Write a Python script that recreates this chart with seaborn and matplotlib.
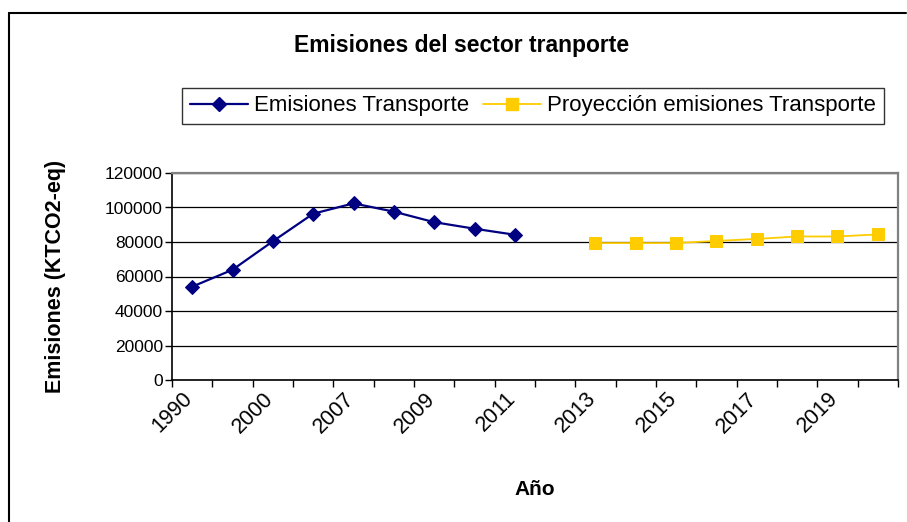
import matplotlib
matplotlib.use('Agg')
import matplotlib.pyplot as plt
import matplotlib.transforms as mtransforms
import seaborn as sns
import pandas as pd
import numpy as np
from matplotlib.lines import Line2D

anios = ['1990', '1994', '2000', '2005', '2007', '2008', '2009', '2010', '2011', '2012',
         '2013', '2014', '2015', '2016', '2017', '2018', '2019', '2020']
anios_hist = ['1990', '1994', '2000', '2005', '2007', '2008', '2009', '2010', '2011']
emisiones_hist = [54100, 63900, 80400, 96400, 102400, 97600, 91500, 87700, 84200]
anios_proy = ['2013', '2014', '2015', '2016', '2017', '2018', '2019', '2020']
emisiones_proy = [79400, 79400, 79400, 80600, 81800, 83200, 83200, 84400]

pos = {a: i for i, a in enumerate(anios)}
df_hist = pd.DataFrame({'x': [pos[a] for a in anios_hist], 'y': emisiones_hist})
df_proy = pd.DataFrame({'x': [pos[a] for a in anios_proy], 'y': emisiones_proy})

sns.set_style('white')
plt.rcParams['font.family'] = ['Liberation Sans', 'DejaVu Sans']
plt.rcParams['text.color'] = 'black'
plt.rcParams['axes.labelcolor'] = 'black'
plt.rcParams['xtick.color'] = 'black'
plt.rcParams['ytick.color'] = 'black'

fig = plt.figure(figsize=(9.07, 5.22), dpi=100)
ax = fig.add_axes([172/907, 1 - 380/522, (898 - 172)/907, (380 - 173)/522])

azul = '#000080'
amarillo = '#FFCC00'
sns.lineplot(data=df_hist, x='x', y='y', ax=ax, color=azul, lw=1.6, marker='D',
             markersize=7, markeredgecolor=azul, zorder=4)
sns.lineplot(data=df_proy, x='x', y='y', ax=ax, color=amarillo, lw=1.3, marker='s',
             markersize=8, markeredgecolor=amarillo, zorder=4)

ax.set_xlim(-0.5, len(anios) - 0.5)
ax.set_ylim(0, 120000)
ax.set_yticks(np.arange(0, 120001, 20000))
ax.yaxis.grid(True, color='black', lw=0.9)
ax.set_axisbelow(True)
ax.tick_params(axis='y', which='major', direction='out', length=5, width=1,
               color='black', labelsize=12.5, pad=1.5, left=True)

ax.set_xticks(np.arange(-0.5, len(anios), 1), minor=True)
ax.tick_params(axis='x', which='major', length=0, pad=6)
ax.tick_params(axis='x', which='minor', direction='out', length=5, width=1,
               color='black', bottom=True)
ax.set_xticks(np.arange(0, len(anios), 2))
ax.set_xticklabels(anios[::2], rotation=45, ha='right', va='top',
                   rotation_mode='anchor', fontsize=15.5)
desplaza = mtransforms.ScaledTranslation(-10/100, 0, fig.dpi_scale_trans)
for lab in ax.get_xticklabels():
    lab.set_transform(lab.get_transform() + desplaza)

for s in ['left', 'bottom']:
    ax.spines[s].set_color('black')
    ax.spines[s].set_linewidth(1.2)
for s in ['top', 'right']:
    ax.spines[s].set_color('#808080')
    ax.spines[s].set_linewidth(1.6)

ax.set_xlabel('Año', fontsize=15, fontweight='bold', labelpad=31)
ax.set_ylabel('Emisiones (KTCO2-eq)', fontsize=15.5, fontweight='bold', labelpad=28)

fig.text(462/907, 1 - 45/522, 'Emisiones del sector tranporte', ha='center', va='center',
         fontsize=16.5, fontweight='bold')

handles = [Line2D([], [], color=azul, lw=1.6, marker='D', markersize=7),
           Line2D([], [], color=amarillo, lw=1.3, marker='s', markersize=8)]
leg = fig.legend(handles, ['Emisiones Transporte', 'Proyección emisiones Transporte'],
                 loc='center', bbox_to_anchor=(533/907, 1 - 106/522), ncol=2,
                 fontsize=16, frameon=True, fancybox=False, handlelength=2.6,
                 handletextpad=0.3, columnspacing=0.6, borderpad=0.35)
leg.get_frame().set_edgecolor('black')
leg.get_frame().set_linewidth(1.0)

fig.add_artist(Line2D([9/907, 9/907], [0, 1 - 13/522], transform=fig.transFigure,
                      color='black', lw=1.5))
fig.add_artist(Line2D([9/907, 906/907], [1 - 13/522, 1 - 13/522], transform=fig.transFigure,
                      color='black', lw=1.5))

fig.savefig('out.png', dpi=100)
